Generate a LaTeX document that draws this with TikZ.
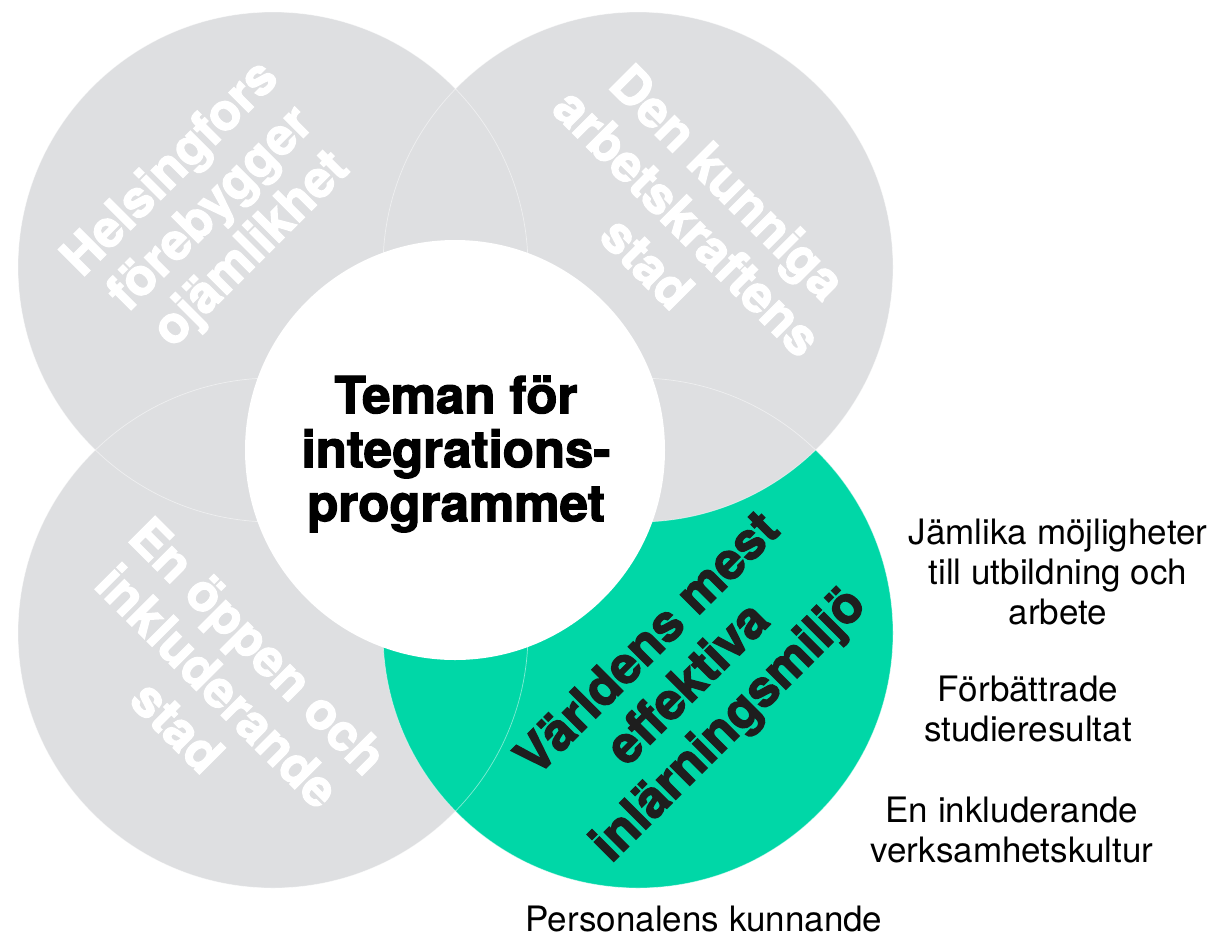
\documentclass[tikz,border=0pt]{standalone}
\usepackage{fontspec}
\setmainfont{TeX Gyre Heros}
\newfontfamily\heavyfont{texgyreheros-bold.otf}[FakeBold=2.5]
\usepackage{tikz}
\definecolor{hkigray}{HTML}{DEDFE1}
\definecolor{hkigreen}{HTML}{00D7A7}
\definecolor{hkiblack}{HTML}{1E1E1E}

\begin{document}
\begin{tikzpicture}[x=1pt,y=-1pt,
  theme/.style={font=\heavyfont\fontsize{51}{54}\selectfont, align=center, inner sep=0pt},
  slanted/.style={theme, font=\heavyfont\fontsize{51}{57}\selectfont},
  goal/.style={font=\fontsize{35}{40}\selectfont, align=center, inner sep=0pt}]
\useasboundingbox (0,0) rectangle (1218,938);

%circles
\fill[hkigray] (273,633) circle (255);
\fill[hkigreen] (638,633) circle (255);
\fill[hkigray] (638,267) circle (255);
\fill[hkigray] (273,267) circle (255);
\foreach \cx/\cy in {273/267,638/267,273/633,638/633}
  \draw[white,opacity=0.5,line width=0.7pt] (\cx,\cy) circle (255);

%centre
\fill[white] (455,450) circle (210);
\node[theme] (teman) at (456,454) {Teman för\\integrations-\\programmet};

%themes
\node[slanted, text=white, rotate=45] (ojamlikhet) at (212,210) {Helsingfors\\förebygger\\ojämlikhet};
\node[slanted, text=white, rotate=-45] (arbetskraft) at (688,222) {Den kunniga\\arbetskraftens\\stad};
\node[slanted, text=white, rotate=-45] (oppenstad) at (218,686) {En öppen och\\inkluderande\\stad};
\node[slanted, text=hkiblack, rotate=45] (larmiljo) at (690,686) {Världens mest\\effektiva\\inlärningsmiljö};

%goals
\node[goal] (jamlika) at (1058,572) {Jämlika möjligheter\\till utbildning och\\arbete};
\node[goal] (studie) at (1028,709) {Förbättrade\\studieresultat};
\node[goal] (kultur) at (1012,830) {En inkluderande\\verksamhetskultur};
\node[goal] (personal) at (704,919) {Personalens kunnande};

\end{tikzpicture}
\end{document}
